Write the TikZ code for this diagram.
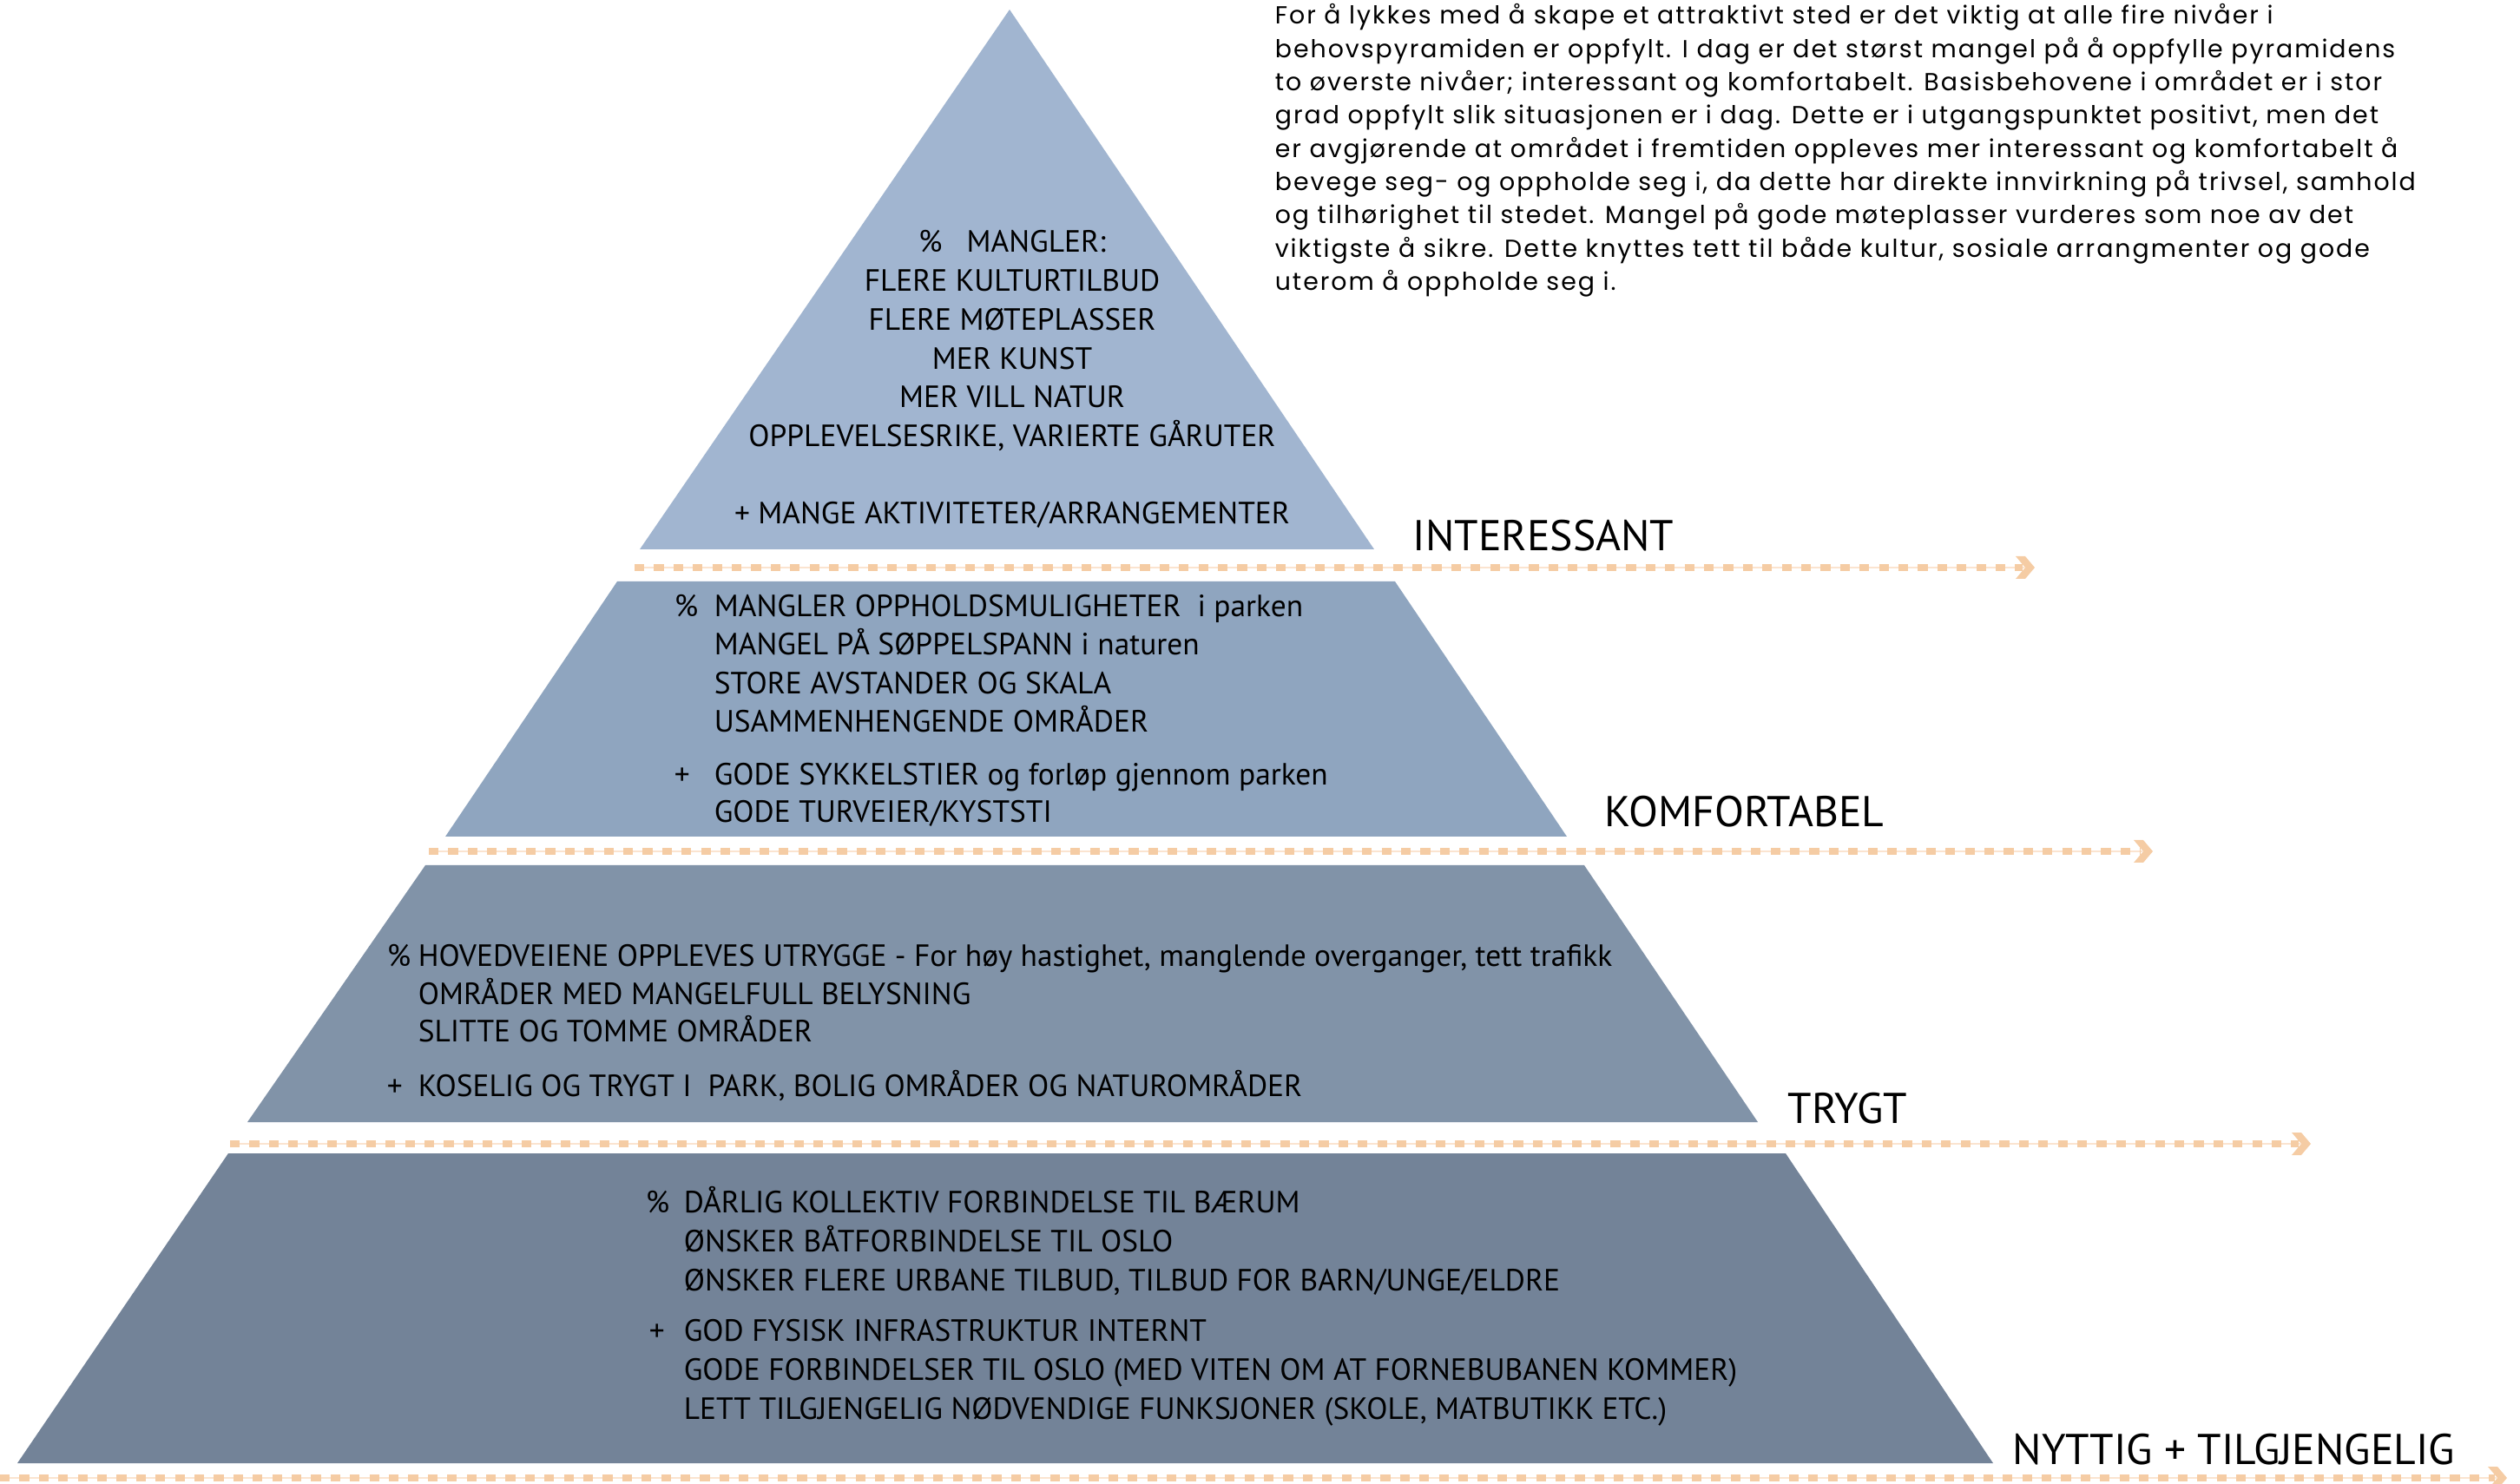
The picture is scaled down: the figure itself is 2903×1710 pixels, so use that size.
\documentclass[tikz,border=0pt]{standalone}
\usepackage{fontspec}
\setmainfont{PT Sans}
\newfontfamily\parafont[LetterSpace=7]{Poppins}
\definecolor{lvA}{RGB}{161,181,208}
\definecolor{lvB}{RGB}{143,165,191}
\definecolor{lvC}{RGB}{129,147,168}
\definecolor{lvD}{RGB}{115,131,152}
\definecolor{dotc}{RGB}{245,204,164}
\definecolor{dotl}{RGB}{251,228,208}
\tikzset{
  pyr/.style={text=black, font=\fontsize{8.85}{10}\selectfont, anchor=base west, inner sep=0pt},
  pyrc/.style={pyr, anchor=base},
  lvl/.style={font=\fontsize{12.4}{14}\selectfont, anchor=base west, inner sep=0pt},
  para/.style={font=\parafont\fontsize{7.1}{9.5}\selectfont, anchor=base west, inner sep=0pt},
  dotline/.style={dotc, line width=2pt, dash pattern=on 2.8pt off 2.8pt},
  thinline/.style={dotl, line width=0.35pt},
  chev/.style={fill=dotc, draw=none},
}
\newcommand{\dotarrow}[4]{%
  \coordinate (#1s) at (#2,#4);
  \coordinate (#1e) at (#3,#4);
  \draw[thinline] (#1s) -- ([xshift=-3pt]#1e);
  \draw[dotline] (#1s) -- ([xshift=-3.5pt]#1e);
  \fill[chev] (#1e) -- ++(-11,-13) -- ++(-11,0) -- ++(11,13) -- ++(-11,13) -- ++(11,0) -- cycle;
}
\begin{document}
\begin{tikzpicture}[x=0.25pt,y=-0.25pt]
\useasboundingbox (0,0) rectangle (2903,1710);

% pyramid levels
\fill[lvA] (1163,11) -- (1583,633) -- (737,633) -- cycle;
\fill[lvB] (711,670) -- (1607,670) -- (1805,964) -- (513,964) -- cycle;
\fill[lvC] (490,997) -- (1825,997) -- (2025,1293) -- (285,1293) -- cycle;
\fill[lvD] (263,1329) -- (2057,1329) -- (2296,1686) -- (20,1686) -- cycle;

% dotted arrows
\dotarrow{a1}{731}{2344}{654}
\dotarrow{a2}{494}{2480}{981}
\dotarrow{a3}{265}{2662}{1318}
\dotarrow{a4}{0}{2888}{1703}

% level labels
\node[lvl] (lI) at (1627,635) {INTERESSANT};
\node[lvl] (lK) at (1848,953) {KOMFORTABEL};
\node[lvl] (lT) at (2059,1294) {TRYGT};
\node[lvl] (lN) at (2318,1687) {NYTTIG + TILGJENGELIG};

% top triangle text
\node[pyrc] (t1) at (1166,291) {\%\hspace{0.8em}MANGLER:};
\node[pyrc] (t2) at (1166,336) {FLERE KULTURTILBUD};
\node[pyrc] (t3) at (1166,381) {FLERE MØTEPLASSER};
\node[pyrc] (t4) at (1166,426) {MER KUNST};
\node[pyrc] (t5) at (1166,470) {MER VILL NATUR};
\node[pyrc] (t6) at (1166,515) {OPPLEVELSESRIKE, VARIERTE GÅRUTER};
\node[pyrc] (t7) at (1166,604) {+ MANGE AKTIVITETER/ARRANGEMENTER};

% level 2 text
\node[pyr] (k0) at (776,711) {\%};
\node[pyr] (k1) at (822,711) {MANGLER OPPHOLDSMULIGHETER\ \ i parken};
\node[pyr] (k2) at (822,755) {MANGEL PÅ SØPPELSPANN i naturen};
\node[pyr] (k3) at (822,800) {STORE AVSTANDER OG SKALA};
\node[pyr] (k4) at (822,844) {USAMMENHENGENDE OMRÅDER};
\node[pyr] (k5) at (776,905) {+};
\node[pyr] (k6) at (822,905) {GODE SYKKELSTIER og forløp gjennom parken};
\node[pyr] (k7) at (822,948) {GODE TURVEIER/KYSTSTI};

% level 3 text
\node[pyr] (s0) at (445,1113) {\%};
\node[pyr] (s1) at (481,1113) {HOVEDVEIENE OPPLEVES UTRYGGE - For høy hastighet, manglende overganger, tett trafikk};
\node[pyr] (s2) at (481,1157) {OMRÅDER MED MANGELFULL BELYSNING};
\node[pyr] (s3) at (481,1200) {SLITTE OG TOMME OMRÅDER};
\node[pyr] (s4) at (445,1263) {+};
\node[pyr] (s5) at (481,1263) {KOSELIG OG TRYGT I\ \ PARK, BOLIG OMRÅDER OG NATUROMRÅDER};

% level 4 text
\node[pyr] (n0) at (743,1397) {\%};
\node[pyr] (n1) at (787,1397) {DÅRLIG KOLLEKTIV FORBINDELSE TIL BÆRUM};
\node[pyr] (n2) at (787,1442) {ØNSKER BÅTFORBINDELSE TIL OSLO};
\node[pyr] (n3) at (787,1487) {ØNSKER FLERE URBANE TILBUD, TILBUD FOR BARN/UNGE/ELDRE};
\node[pyr] (n4) at (747,1545) {+};
\node[pyr] (n5) at (787,1545) {GOD FYSISK INFRASTRUKTUR INTERNT};
\node[pyr] (n6) at (787,1590) {GODE FORBINDELSER TIL OSLO (MED VITEN OM AT FORNEBUBANEN KOMMER)};
\node[pyr] (n7) at (787,1635) {LETT TILGJENGELIG NØDVENDIGE FUNKSJONER (SKOLE, MATBUTIKK ETC.)};

% paragraph
\foreach \t [count=\i] in {
  {For å lykkes med å skape et attraktivt sted er det viktig at alle fire nivåer i},
  {behovspyramiden er oppfylt. I dag er det størst mangel på å oppfylle pyramidens},
  {to øverste nivåer; interessant og komfortabelt. Basisbehovene i området er i stor},
  {grad oppfylt slik situasjonen er i dag. Dette er i utgangspunktet positivt, men det},
  {er avgjørende at området i fremtiden oppleves mer interessant og komfortabelt å},
  {bevege seg- og oppholde seg i, da dette har direkte innvirkning på trivsel, samhold},
  {og tilhørighet til stedet. Mangel på gode møteplasser vurderes som noe av det},
  {viktigste å sikre. Dette knyttes tett til både kultur, sosiale arrangmenter og gode},
  {uterom å oppholde seg i.}}
  \node[para] (p\i) at (1468,{28+(\i-1)*38.3}) {\t};
\end{tikzpicture}
\end{document}
